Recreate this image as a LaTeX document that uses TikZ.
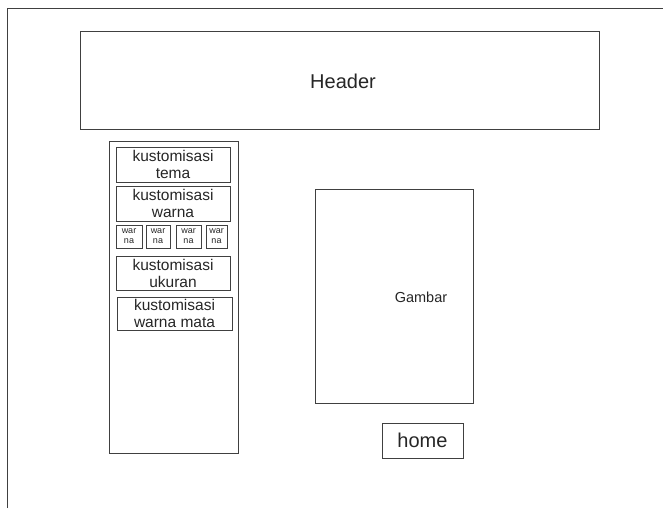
\documentclass[tikz,border=0pt]{standalone}
\usepackage{fontspec}
\setmainfont{Liberation Sans}
\usepackage{tikz}

\definecolor{linegray}{HTML}{404040}
\definecolor{textgray}{HTML}{262626}

\begin{document}
\begin{tikzpicture}[x=1pt,y=-1pt,
  box/.style={draw=linegray,line width=1pt,inner sep=0pt,text=textgray},
  menu/.style={box,align=center,font=\fontsize{15.5}{17}\selectfont},
  tiny/.style={box,align=center,font=\fontsize{9}{10}\selectfont}]
\useasboundingbox (0,0) rectangle (663,508);
\draw[linegray,line width=1pt] (7,508) -- (7,9) -- (663,9);

\draw (339.5,80.5) node (header) [box,minimum width=519pt,minimum height=97pt] {};
\node [text=textgray,font=\fontsize{20}{20}\selectfont] at (343,81) {Header};

\draw (173.5,297)  node (side)   [box,minimum width=129pt,minimum height=312pt] {};
\draw (173,164.5)  node (tema)   [menu,minimum width=114pt,minimum height=35pt] {kustomisasi\\tema};
\draw (173,203.5)  node (warna)  [menu,minimum width=114pt,minimum height=35pt] {kustomisasi\\warna};
\draw (129,236.5)  node (w1)     [tiny,minimum width=26pt,minimum height=23pt] {war\\na};
\draw (158,236.5)  node (w2)     [tiny,minimum width=24pt,minimum height=23pt] {war\\na};
\draw (188.5,236.5) node (w3)    [tiny,minimum width=25pt,minimum height=23pt] {war\\na};
\draw (216.5,236.5) node (w4)    [tiny,minimum width=21pt,minimum height=23pt] {war\\na};
\draw (173,273)    node (ukuran) [menu,minimum width=114pt,minimum height=34pt] {kustomisasi\\ukuran};
\draw (174.5,313.5) node (mata)  [menu,minimum width=115pt,minimum height=33pt] {kustomisasi\\warna mata};

\draw (394,296)    node (gambar) [box,minimum width=158pt,minimum height=214pt] {};
\node [text=textgray,font=\fontsize{14.5}{15}\selectfont] at (421,297) {Gambar};

\draw (422.5,440.5) node (home)  [box,minimum width=81pt,minimum height=35pt,font=\fontsize{20}{20}\selectfont] {home};

\end{tikzpicture}
\end{document}
